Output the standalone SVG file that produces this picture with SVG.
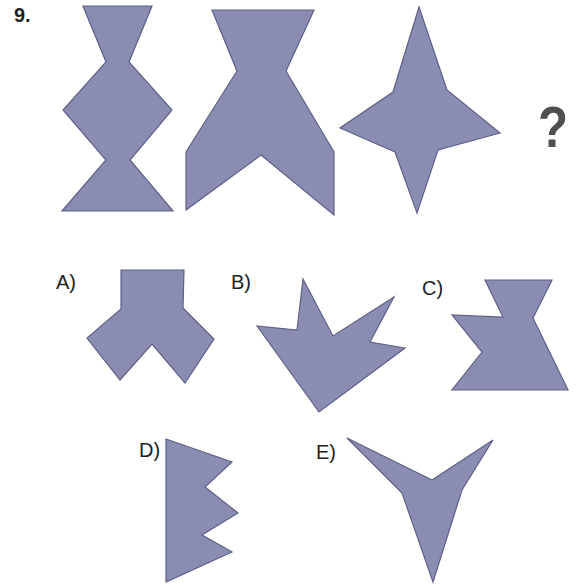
<svg xmlns="http://www.w3.org/2000/svg" width="581" height="587" viewBox="0 0 581 587">
<style>
.s{fill:#8b8cb2;stroke:#5f6088;stroke-width:1.2;stroke-linejoin:miter}
.t{font-family:"Liberation Sans",Arial,sans-serif;font-size:20px;fill:#222}
.b{font-weight:bold}
</style>
<rect width="581" height="587" fill="#fff"/>
<text class="t b" x="14" y="22" font-size="21">9.</text>
<g id="fig1"><polygon class="s" points="83,6 152,6 129,62 172,110 130,160 173,211 62,211 106,160 63,110 106,62"/></g>
<g id="fig2"><polygon class="s" points="212,10 314,10 286,71 334,152 334,215 261,155 186,210 186,152 237,71"/></g>
<g id="fig3"><polygon class="s" points="419,7 447,90 500,133 438,150 417,213 395,152 340,128 393,92"/></g>
<g id="q"><text x="538" y="147" font-family="Liberation Sans,Arial,sans-serif" font-weight="bold" font-size="58" fill="#4f4f4f" transform="translate(538 147) scale(0.85 1) translate(-538 -147)">?</text></g>
<g id="optA"><text class="t" x="56" y="289">A)</text><polygon class="s" points="121,270 184,270 183,308 214,339 185,383 152,344 120,380 87,338 121,309"/></g>
<g id="optB"><text class="t" x="231" y="289">B)</text><polygon class="s" points="303,279 333,336 394,297 370,342 405,348 319,412 257,326 297,330"/></g>
<g id="optC"><text class="t" x="422" y="295">C)</text><polygon class="s" points="485,280 552,280 533,318 568,390 452,390 482,352 452,315 503,317"/></g>
<g id="optD"><text class="t" x="139" y="457">D)</text><polygon class="s" points="166,439 232,462 205,487 238,513 202,535 232,552 166,582"/></g>
<g id="optE"><text class="t" x="316" y="459">E)</text><polygon class="s" points="347,438 432,480 493,440 462,490 433,582 402,493"/></g>
</svg>
